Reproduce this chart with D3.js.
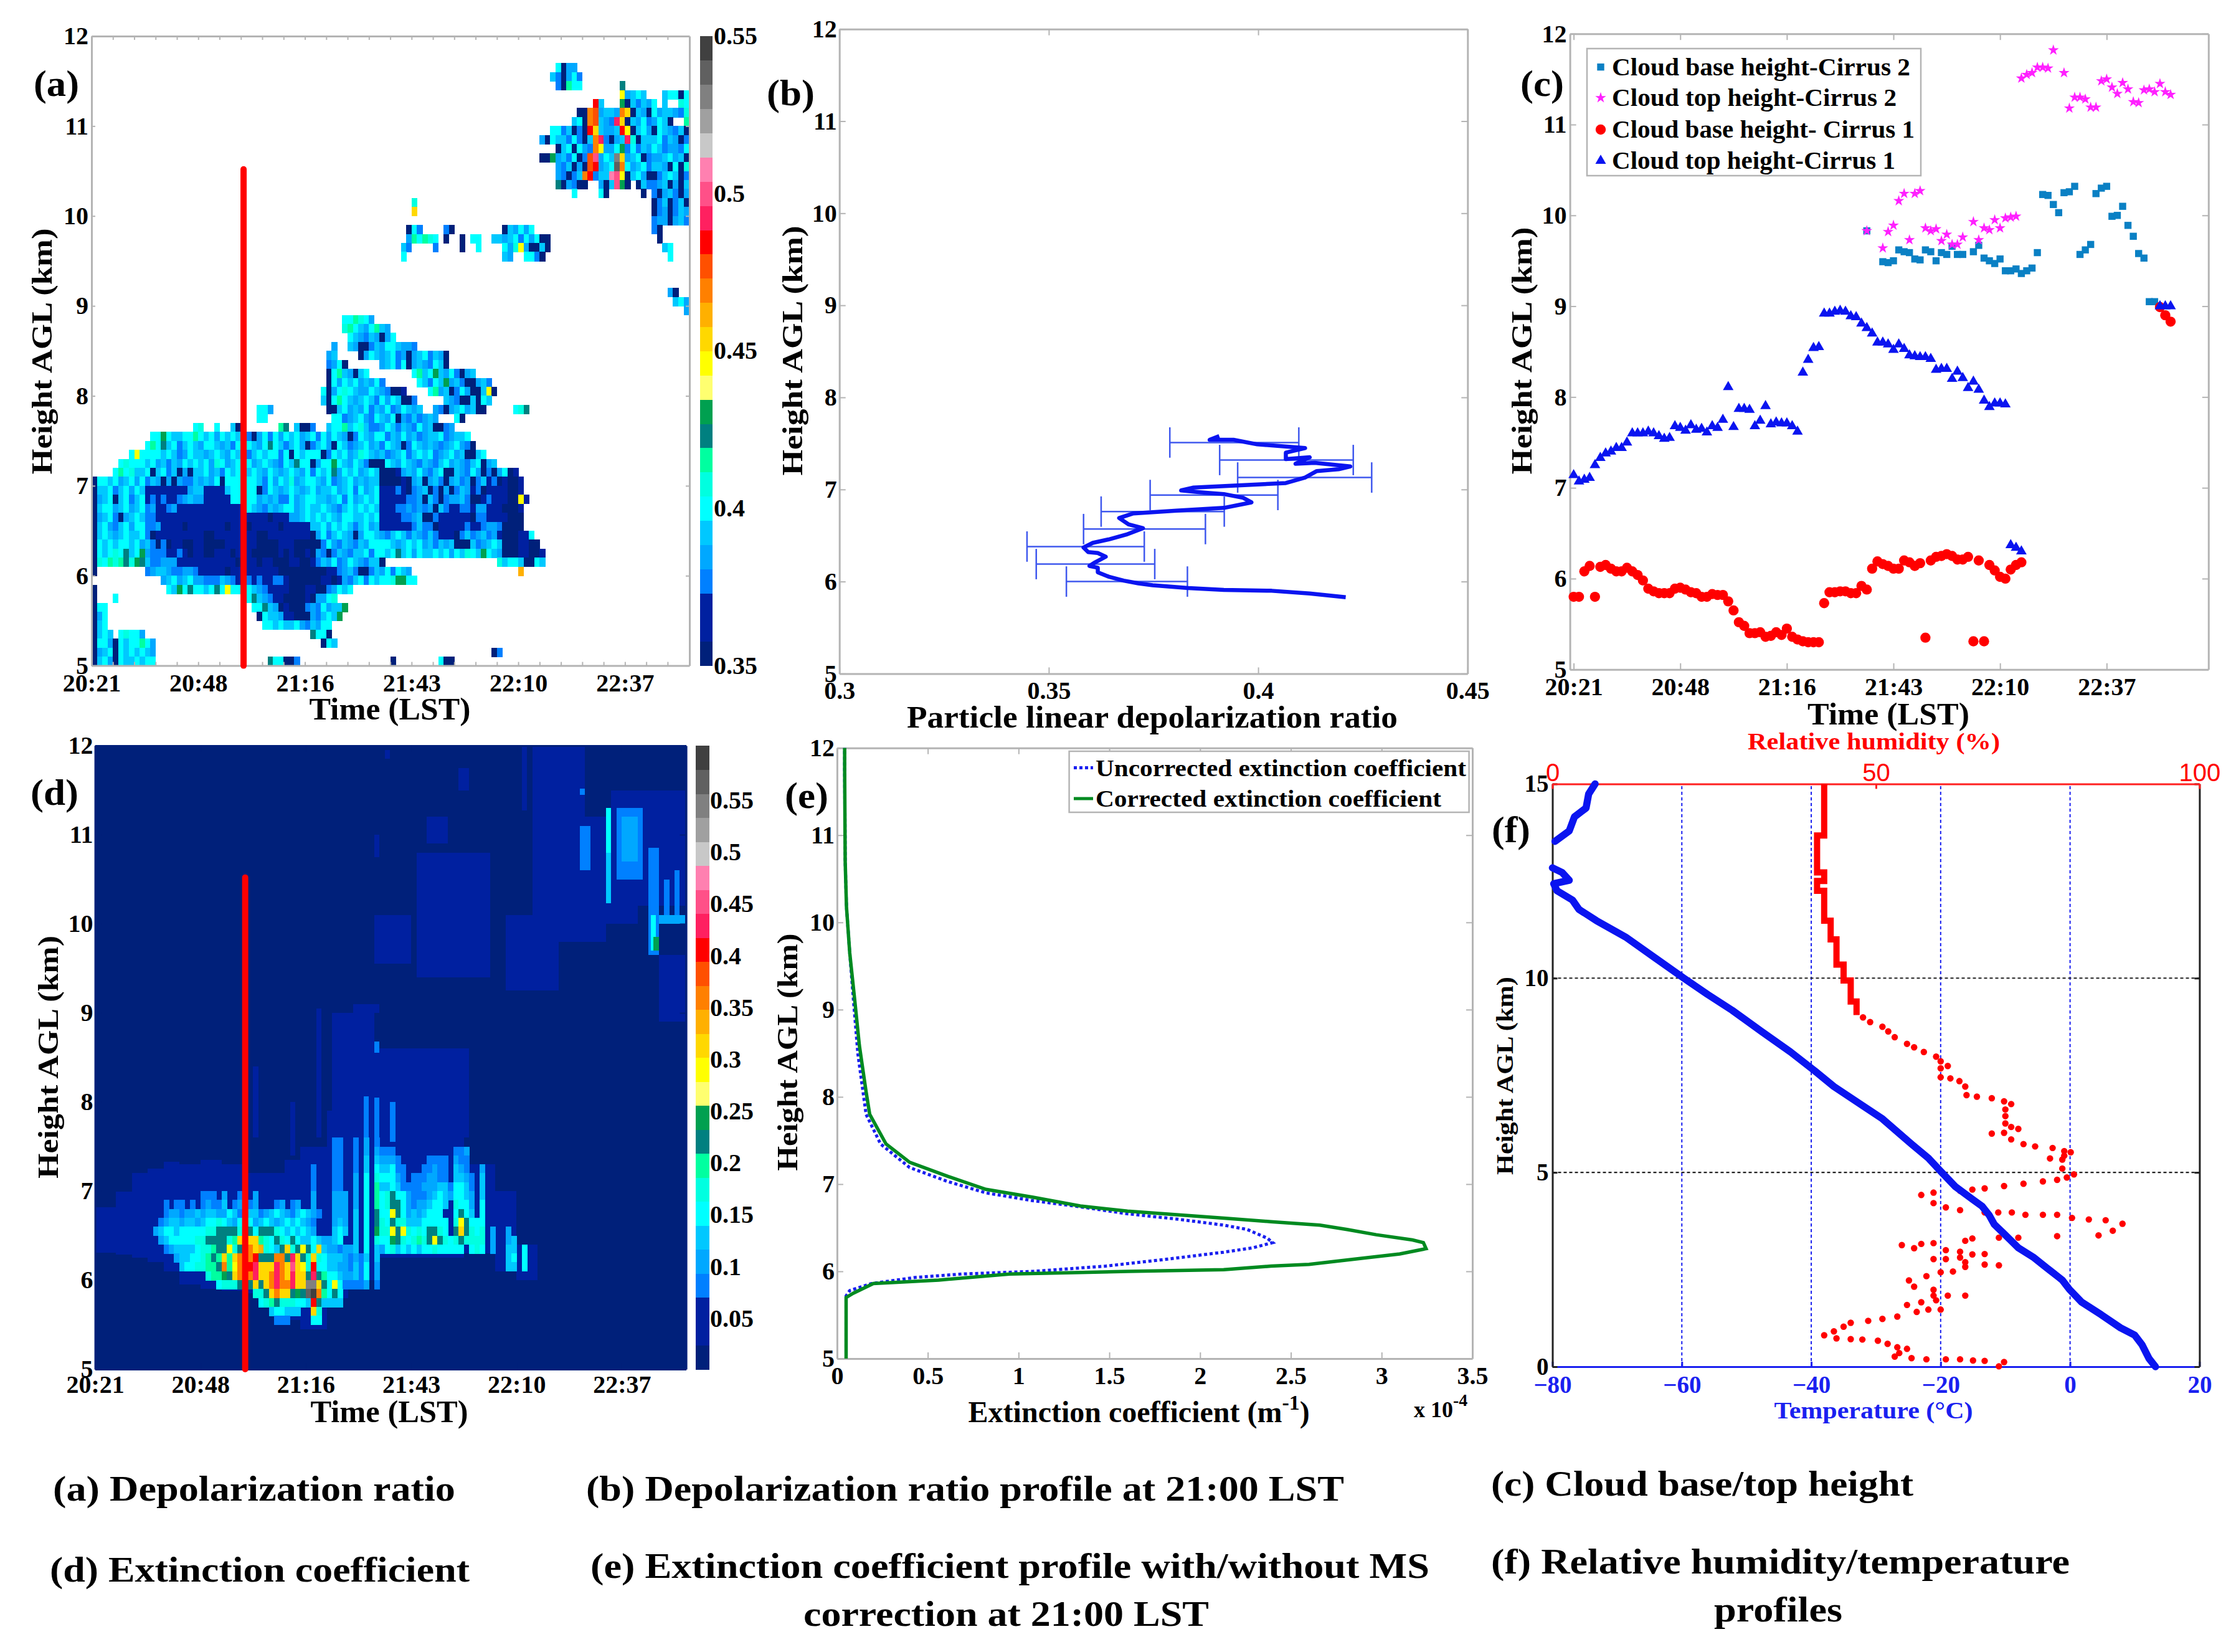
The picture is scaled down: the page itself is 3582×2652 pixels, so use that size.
<!DOCTYPE html>
<html><head><meta charset="utf-8">
<script src="https://cdn.jsdelivr.net/npm/d3@7/dist/d3.min.js"></script>
<style>
html,body{margin:0;padding:0;background:#fff}
svg{display:block}
text{font-family:"Liberation Serif",serif;font-weight:700;fill:#000}
</style></head><body><div id="c"></div>
<script>
// ---------- shared axes data ----------
const heightTicks=[5,6,7,8,9,10,11,12];
const timeTicks=[0,20,40,60,80,100];              // sample index
const timeLabels=["20:21","20:48","21:16","21:43","22:10","22:37"];
const rampColors=["#00207a","#0020a0","#0020a0","#0080ff","#00a8ff","#00c8ff","#00ffff","#00ffe0","#00ffa0","#008080","#00a050","#ffff70","#ffff00","#ffd800","#ffb000","#ff8000","#ff5000","#ff0000","#ff2060","#ff5088","#ff80b0","#c8c8c8","#a0a0a0","#808080","#606060","#404040"];
const levelKeys="abcdefghijklmnopqrstuvwxyz";
const ticksBarA=[0.35,0.4,0.45,0.5,0.55];
const ticksBarD=[0.05,0.1,0.15,0.2,0.25,0.3,0.35,0.4,0.45,0.5,0.55];
const markerLine={col:28.5,km0:5,km1:10.52};

// (a) depolarization ratio cells: [km bottom, first sample, levels]
const cellsA=[
[11.6,87,"gaee"],[11.5,86,"fdaegd"],[11.4,87,"daigg"],[11.4,99,"j"],
[11.3,99,"mefgf"],[11.3,107,"fggag"],
[11.2,94,"rf"],[11.2,99,"kafdfeg"],[11.2,107,"f"],[11.2,110,"hgg"],
[11.1,91,"aapqeffepnafeageffed"],[11.1,111,"ha"],
[11.0,90,"fgapqfedsnafegdegfa"],[11.0,111,"ig"],
[10.9,86,"ggdfadarnfeefrmafgeagfedfagi"],
[10.8,84,"ea"],[10.8,86,"gffdgdafpsdaefshafffgdfeadfh"],
[10.7,87,"afgagedpmeegkdgdfegfdeedg"],
[10.6,84,"aak"],[10.6,87,"efdgadqtegfxnefgadeefgefa"],
[10.5,87,"edfaeaqrefgypgefgdffeagah"],
[10.4,87,"edadfprdffutmafgeaadfgfad"],
[10.3,87,"jaedaa"],[10.3,95,"eaf"],[10.3,98,"tk"],[10.3,100,"a"],[10.3,102,"afd"],[10.3,105,"defaeafa"],
[10.2,90,"g"],[10.2,95,"ga"],[10.2,103,"a"],[10.2,105,"daefdaee"],
[10.1,105,"adfadfa"],[10.1,60,"h"],[10.0,60,"n"],[10.0,105,"adeadfe"],[9.9,105,"deeaefd"],
[9.8,59,"agd"],[9.8,66,"da"],[9.8,77,"afege"],[9.8,82,"g"],[9.8,105,"da"],
[9.7,59,"eigihg"],[9.7,66,"a"],[9.7,69,"a"],[9.7,71,"gg"],[9.7,75,"ff"],[9.7,77,"efgdgeg"],[9.7,84,"aa"],[9.7,106,"a"],
[9.6,58,"fd"],[9.6,64,"d"],[9.6,69,"a"],[9.6,72,"g"],[9.6,77,"gehmeaafa"],[9.6,107,"fg"],
[9.5,58,"g"],[9.5,77,"fe"],[9.5,81,"ggda"],[9.5,108,"g"],
[9.1,108,"ea"],[9.0,109,"fge"],[8.9,111,"e"],
[8.8,47,"ggihge"],
[8.7,47,"higfegife"],
[8.6,48,"gfedfeaeg"],
[8.5,45,"e"],[8.5,48,"fe"],[8.5,50,"aadfeggfeed"],
[8.4,44,"ef"],[8.4,50,"aegfefgdeaefgdfea"],
[8.3,44,"dega"],[8.3,54,"efgdgaefedgfa"],
[8.2,44,"agifeafg"],[8.2,60,"gifgkfegdaef"],
[8.1,44,"agegfgefegd"],[8.1,61,"gfdgfkefdaaefd"],
[8.0,43,"gaeghgfeegfed"],[8.0,56,"aab"],[8.0,63,"giefadgeaafma"],
[7.9,43,"fagigfefgfdgegfaad"],[7.9,66,"fedaafagf"],
[7.8,44,"aafgefegdfegdegfef"],[7.8,64,"edaefgefaa"],[7.8,79,"ghj"],[7.8,31,"gge"],
[7.7,45,"ggdefgedgfegaedfdefe"],[7.7,68,"ga"],[7.7,31,"gg"],
[7.6,19,"gh"],[7.6,23,"g"],[7.6,26,"faa"],[7.6,35,"ij"],[7.6,38,"faad"],[7.6,44,"fggifghfddegfdfedgefaade"],
[7.5,11,"ggkgffggigfgegfgfedaegdgegfgefgdgegfeadgfeggdfegefdeffgdeffg"],
[7.4,10,"gigjfgdfgfeggfefdgfgfegjgfdfgeadfgeagfdefgefdgfeadgfefedefgeda"],
[7.3,7,"gmggggfgfdegffefgfegffdfgfggdgagfgggadgfgefhgfefdefgdfgfgdefgefaafg"],
[7.2,5,"ghgggfgefdfegfgfgehgefgfgefgfedgfjggaeggkgfegfdaaagfegfedfedfgefedfgaef"],
[7.1,4,"gighffgafgdfaeaffgefdgfgefgfegfefgfegdgfgjegfgefgfaaabefegedfgaafedgeadaegab"],
[7.0,0,"aggfgefgegdfeaeaeddfefegagggfggfdgegfhefggfegdefgefeffaaaabaefaefdaefdeadfbdabaab"],
[6.9,0,"affgdfgegfbbbbbbbbeffbbbbfgggggadgfefgfefgeffgefgdgefgbbbdbadefadaeadfebdabbbbaab"],
[6.8,0,"aefgafgdfgbdbdbbdefeebbbbbggfggefefddgefggffefgdgefgfgbbbbbddeafdadeefdaabdbbbaamb"],
[6.7,0,"afggefgefgdebbdebbbbbbbbbbbbfgfedfefggefgffgfedfgfgfgfbbbddededeafdbbddbeebbbaaab"],
[6.6,0,"aefgdaefgfddbbbbbbbbbbbbbbbbbbbbbabbbeefgfgfgfeggffgfgbbbbddefaadbbbbbbaddbbbbaaa"],
[6.5,0,"afgedfgeggddebbbbabbbbbbbabbdabbbbbabbbbbffgegfgfdfgefbbbbbbdfddabbbbbdbbdeedaaaa"],
[6.4,0,"afgfefgffgdabbbbbbbbbaabbbbbabbaabbbbbbbbaegdfgfeaeggfedfgfdfedfdbbbadfdefdebaaabbg"],
[6.3,0,"agfgfggfgefdadabbaabbaaaabbbbbbaaaabbbaaaaadgedfedfeggggfefgfgefdfefaaafdefgfaaabbaa"],
[6.2,0,"agfghgjfgkedddbbdbabbaabbbabbbaaaaababaabaedadfedffgdggfgjfgegffgfgegfhgfkgfeaaabbaab"],
[6.1,0,"ahgihijhkjfddeeebbbbbbbbbbbabbbabbaaabbaabdfegdegfedffa"],[6.1,76,"hfggfaagf"],
[6.0,0,"a"],[6.0,10,"deffeddeedbbbbbabbbbbbbbbaaaaaaaaabbdefdaadfegdgfe"],[6.0,80,"o"],
[5.9,0,""],[5.9,13,"efgefgeedddfedbbdbdbbddbaaaaaabbabedfgdgfgghkkgg"],
[5.8,0,"a"],[5.8,14,"gfkgjggfgjgmgg"],[5.8,29,"gfedbbbbaaabbaadegfg"],
[5.7,0,"a"],[5.7,4,"g"],[5.7,29,"gjfedbbaaaabaeegh"],
[5.6,0,"agg"],[5.6,30,"ggjfeabaaadedgeffk"],
[5.5,0,"aeg"],[5.5,31,"agffebbaaaedfgfk"],
[5.4,0,"afg"],[5.4,32,"ggfgffgedfegg"],
[5.3,0,"afgf"],[5.3,5,"ghgge"],[5.3,41,"jgga"],
[5.2,0,"aggeagfggige"],[5.2,43,"agf"],
[5.1,0,"aefgagfgfgfe"],[5.1,75,"ad"],
[5.0,0,"afgeagffgfgg"],[5.0,33,"jggaad"],[5.0,56,"a"],[5.0,65,"gaa"],
];

// (b) particle linear depolarization ratio profile
const ratioB=[.4209,.4123,.4032,.3918,.3833,.3748,.3714,.3679,.3645,.3617,.3617,.3597,.3611,.3636,.3617,.3594,.3583,.3605,.3645,.3685,.3725,.3691,.3668,.3702,.3805,.3918,.3984,.3964,.3918,.3861,.3816,.3844,.3975,.4066,.4112,.4140,.4192,.4220,.4135,.4089,.4123,.4066,.4066,.4112,.3998,.3941,.3884,.3907];
const kmB=[5.83,5.87,5.90,5.91,5.93,5.96,5.98,6.01,6.05,6.10,6.15,6.17,6.21,6.27,6.31,6.32,6.37,6.42,6.46,6.51,6.58,6.62,6.69,6.74,6.77,6.80,6.86,6.91,6.95,6.97,6.99,7.02,7.05,7.07,7.13,7.20,7.22,7.25,7.29,7.28,7.35,7.33,7.40,7.45,7.49,7.54,7.54,7.58];
const errKmB=[7.51,7.32,7.13,6.94,6.76,6.57,6.38,6.19,6.0];
const errLoB=[.3789,.3908,.3951,.3742,.3625,.3583,.3448,.3470,.3542];
const errHiB=[.4097,.4227,.4271,.4047,.3919,.3874,.3728,.3753,.3831];
const ticksB=[0.3,0.35,0.4,0.45];

// (c) cloud heights: [sample, km]
const baseCirrus2=[[55,9.83],[58,9.49],[59,9.48],[60,9.5],[61,9.62],[62,9.6],[63,9.59],[64,9.52],[65,9.51],[66,9.62],[67,9.6],[68,9.5],[69,9.59],[70,9.57],[71,9.66],[72,9.57],[73,9.57],[75,9.6],[76,9.67],[77,9.53],[78,9.5],[79,9.47],[80,9.52],[81,9.39],[82,9.39],[83,9.41],[84,9.36],[85,9.39],[86,9.42],[87,9.59],[88,10.23],[89,10.22],[90,10.12],[91,10.03],[92,10.25],[93,10.26],[94,10.32],[95,9.57],[96,9.62],[97,9.68],[98,10.24],[99,10.3],[100,10.32],[101,9.99],[102,10.0],[103,10.1],[104,9.89],[105,9.77],[106,9.58],[107,9.53],[108,9.05],[109,9.05]];
const topCirrus2=[[55,9.83],[58,9.64],[59,9.82],[60,9.89],[61,10.16],[62,10.24],[63,9.73],[64,10.24],[65,10.27],[66,9.86],[67,9.83],[68,9.85],[69,9.72],[70,9.79],[71,9.68],[72,9.68],[73,9.76],[75,9.93],[76,9.73],[77,9.86],[78,9.84],[79,9.95],[80,9.86],[81,9.97],[82,9.98],[83,9.99],[84,11.51],[85,11.55],[86,11.57],[87,11.63],[88,11.63],[89,11.62],[90,11.82],[92,11.57],[93,11.18],[94,11.3],[95,11.3],[96,11.28],[97,11.19],[98,11.19],[99,11.48],[100,11.5],[101,11.41],[102,11.34],[103,11.46],[104,11.39],[105,11.25],[106,11.24],[107,11.38],[108,11.39],[109,11.36],[110,11.45],[111,11.36],[112,11.33]];
const baseCirrus1=[[0,5.8],[1,5.8],[2,6.08],[3,6.14],[4,5.8],[5,6.13],[6,6.15],[7,6.11],[8,6.08],[9,6.08],[10,6.12],[11,6.08],[12,6.04],[13,5.98],[14,5.89],[15,5.86],[16,5.84],[17,5.84],[18,5.84],[19,5.89],[20,5.9],[21,5.88],[22,5.85],[23,5.84],[24,5.8],[25,5.8],[26,5.83],[27,5.82],[28,5.82],[29,5.75],[30,5.65],[31,5.52],[32,5.48],[33,5.4],[34,5.4],[35,5.41],[36,5.36],[37,5.37],[38,5.41],[39,5.38],[40,5.45],[41,5.36],[42,5.33],[43,5.31],[44,5.3],[45,5.3],[46,5.3],[47,5.73],[48,5.85],[49,5.85],[50,5.86],[51,5.86],[52,5.84],[53,5.84],[54,5.92],[55,5.88],[56,6.11],[57,6.19],[58,6.16],[59,6.14],[60,6.11],[61,6.11],[62,6.2],[63,6.18],[64,6.14],[65,6.17],[66,5.35],[67,6.2],[68,6.24],[69,6.25],[70,6.27],[71,6.25],[72,6.21],[73,6.21],[74,6.24],[75,5.31],[76,6.2],[77,5.31],[78,6.15],[79,6.09],[80,6.02],[81,6.0],[82,6.1],[83,6.15],[84,6.18],[110,8.99],[111,8.9],[112,8.83]];
const topCirrus1=[[0,7.14],[1,7.07],[2,7.09],[3,7.11],[4,7.25],[5,7.33],[6,7.38],[7,7.4],[8,7.44],[9,7.44],[10,7.5],[11,7.6],[12,7.6],[13,7.6],[14,7.62],[15,7.6],[16,7.57],[17,7.54],[18,7.55],[19,7.68],[20,7.66],[21,7.63],[22,7.69],[23,7.64],[24,7.65],[25,7.61],[26,7.68],[27,7.66],[28,7.75],[29,8.11],[30,7.67],[31,7.87],[32,7.87],[33,7.86],[34,7.68],[35,7.74],[36,7.9],[37,7.7],[38,7.72],[39,7.71],[40,7.71],[41,7.68],[42,7.62],[43,8.27],[44,8.41],[45,8.54],[46,8.55],[47,8.92],[48,8.92],[49,8.94],[50,8.95],[51,8.94],[52,8.89],[53,8.88],[54,8.81],[55,8.76],[56,8.7],[57,8.6],[58,8.6],[59,8.58],[60,8.52],[61,8.58],[62,8.53],[63,8.46],[64,8.45],[65,8.44],[66,8.44],[67,8.42],[68,8.3],[69,8.31],[70,8.31],[71,8.2],[72,8.28],[73,8.21],[74,8.1],[75,8.17],[76,8.08],[77,7.96],[78,7.89],[79,7.93],[80,7.93],[81,7.92],[82,6.37],[83,6.34],[84,6.3],[110,9.0],[111,9.0],[112,9.0]];
const legendC=["Cloud base height-Cirrus 2","Cloud top height-Cirrus 2","Cloud base height- Cirrus 1","Cloud top height-Cirrus 1"];

// (d) extinction: faint patches [first sample, last sample, km low, km high, level]
const patchesD=[
[83,93,11.2,12,"b"],[83,97,9.8,11.2,"b"],[98,112,10.2,11.5,"b"],[81,82,11.27,12,"b"],[63,67,10.9,11.2,"b"],[53,54,10.75,11,"b"],
[61,75,9.4,10.8,"b"],[53,60,9.55,10.1,"b"],[78,88,9.25,10.1,"b"],[93,103,10,10.3,"b"],[107,112,8.9,9.65,"b"],[69,71,11.5,11.75,"b"],
[45,53,7.65,9,"b"],[53,71,7.6,8.6,"b"],[42,43,7.6,9.05,"b"],[49,54,9,9.1,"b"],[30,31,7.6,8.4,"b"],[37,38,7.4,8,"b"],[55,56,11.85,11.95,"b"],
[0,4,6.31,6.82,"b"],[4,7,6.29,6.99,"b"],[7,10,6.25,7.2,"b"],[10,13,6.2,7.25,"b"],[13,16,6.1,7.33,"b"],[16,20,5.95,7.3,"b"],[20,24,5.9,7.35,"b"],[24,28,5.88,7.3,"b"],[28,31,5.85,7.2,"b"],[31,36,5.7,7.2,"b"],[36,39,5.55,7.35,"b"],[39,44,5.45,7.5,"b"],[44,48,5.8,7.9,"b"],[48,54,6.0,7.9,"b"],[54,70,6.25,7.92,"b"],[70,76,6.3,7.3,"b"],[76,80,6.1,7.0,"b"],[80,84,6.0,6.4,"b"],
[51,52,7.6,8.06,"d"],[53,54,7.6,8.05,"d"],[56,57,7.55,8.0,"d"],[53,54,8.55,8.68,"d"],
[97,98,10.8,11.3,"g"],[97,98,10.23,10.8,"f"],[92,94,10.6,11.1,"d"],[99,104,10.5,11.3,"d"],[100,103,10.7,11.2,"e"],[105,107,9.65,10.85,"d"],[105.5,106.5,9.7,10.1,"g"],[106,107,9.7,9.85,"k"],[107,112,10,10.1,"e"],[108,109,10.1,10.5,"d"],[110,111,10.1,10.6,"d"],[92,93,11.45,11.52,"d"],
];
// (d) core cells: [km bottom, first sample, levels]
const cellsD=[
[7.5,45,"dd"],[7.5,49,"d"],[7.5,51,"e"],[7.5,53,"d"],
[7.4,45,"dd"],[7.4,49,"d"],[7.4,51,"e"],[7.4,53,"ed"],[7.4,55,"dd"],[7.4,68,"dde"],
[7.3,45,"dd"],[7.3,49,"d"],[7.3,51,"f"],[7.3,53,"fee"],[7.3,56,"e"],[7.3,57,"d"],[7.3,63,"dddd"],[7.3,68,"edd"],
[7.2,41,"d"],[7.2,45,"dd"],[7.2,49,"d"],[7.2,51,"f"],[7.2,53,"gffg"],[7.2,57,"dd"],[7.2,62,"ddedd"],[7.2,68,"fed"],[7.2,73,"e"],
[7.1,41,"d"],[7.1,45,"dd"],[7.1,49,"e"],[7.1,51,"g"],[7.1,53,"hggg"],[7.1,57,"ed"],[7.1,60,"dddeedd"],[7.1,68,"ffe"],[7.1,71,"d"],[7.1,73,"f"],
[7.0,41,"d"],[7.0,45,"dd"],[7.0,49,"e"],[7.0,51,"g"],[7.0,53,"iffg"],[7.0,57,"fd"],[7.0,59,"dddeeeff"],[7.0,67,"d"],[7.0,68,"ggfd"],[7.0,73,"f"],
[6.9,20,"ddd"],[6.9,24,"e"],[6.9,27,"d"],[6.9,30,"e"],[6.9,41,"e"],[6.9,45,"eee"],[6.9,49,"e"],[6.9,51,"g"],[6.9,53,"ighj"],[6.9,57,"g"],[6.9,58,"ge"],[6.9,60,"dddefgfe"],[6.9,68,"ggfe"],[6.9,73,"f"],
[6.8,13,"d"],[6.8,15,"dd"],[6.8,18,"d"],[6.8,20,"dedd"],[6.8,24,"f"],[6.8,26,"de"],[6.8,29,"de"],[6.8,34,"de"],[6.8,37,"de"],[6.8,41,"e"],[6.8,45,"eee"],[6.8,49,"e"],[6.8,51,"g"],[6.8,53,"ighjj"],[6.8,58,"g"],[6.8,59,"edeefggf"],[6.8,68,"hgge"],[6.8,73,"g"],
[6.7,13,"deedeefeffeegfdeffdefgfedfgfed"],[6.7,45,"eee"],[6.7,49,"f"],[6.7,51,"g"],[6.7,53,"jggmj"],[6.7,58,"g"],[6.7,59,"efefggg"],[6.7,68,"gjg"],[6.7,71,"f"],[6.7,73,"g"],
[6.6,12,"deffeffefgghgfeghgefgfefgfgfed"],[6.6,45,"efe"],[6.6,49,"f"],[6.6,51,"g"],[6.6,53,"jhgjh"],[6.6,58,"h"],[6.6,59,"fffgggg"],[6.6,66,"g"],[6.6,68,"hmj"],[6.6,71,"gg"],[6.6,73,"g"],
[6.5,11,"efggfggggghhjjjjhgjgjjjhgfgfgfe"],[6.5,45,"fgf"],[6.5,49,"f"],[6.5,51,"g"],[6.5,53,"khhmjm"],[6.5,59,"hghgjjhg"],[6.5,68,"jnj"],[6.5,71,"hg"],[6.5,73,"h"],[6.5,75,"e"],[6.5,78,"e"],
[6.4,12,"efggggghhjjjjhinonnihgjhgjgffgfeefg"],[6.4,49,"f"],[6.4,51,"g"],[6.4,53,"hggkjhg"],[6.4,60,"hihjmjhg"],[6.4,68,"hjh"],[6.4,71,"hh"],[6.4,73,"h"],[6.4,75,"e"],[6.4,78,"ef"],
[6.3,13,"deffffghhijjmhjopnohgfjnhjmjgnfeedee"],[6.3,49,"f"],[6.3,51,"g"],[6.3,53,"fe"],[6.3,55,"ghfgf"],[6.3,60,"gfgghgg"],[6.3,67,"g"],[6.3,68,"gg"],[6.3,71,"gh"],[6.3,73,"g"],[6.3,75,"e"],[6.3,78,"ff"],[6.3,81,"g"],
[6.2,15,"effgghijininppprjjjppjsnjhnhgfffededf"],[6.2,53,"f"],[6.2,78,"fg"],[6.2,81,"g"],
[6.1,16,"fgghhiijpimpqrsnnnspntnmhrggffeedfdg"],[6.1,53,"e"],[6.1,78,"ff"],[6.1,81,"g"],
[6.0,21,"hiikjnpqpsnnpspnsnnjsjiggfeefdg"],[6.0,53,"e"],
[5.9,23,"ghhhjjjnjnpsppsnnxxnjgmgdddde"],[5.9,53,"d"],
[5.8,30,"hhjnpnnjkjyzpigjg"],
[5.7,31,"ghijhhhggfrjffff"],
[5.6,33,"fggfff"],[5.6,41,"nh"],
[5.5,34,"ddd"],[5.5,41,"gg"],
];

// (e) extinction profile, x in 1e-4 per metre
const kmGreen=[5,5.7,5.75,5.86,5.90,5.97,6.0,6.02,6.06,6.08,6.15,6.2,6.26,6.33,6.36,6.42,6.48,6.53,6.57,6.61,6.65,6.69,6.75,6.85,6.94,7.09,7.25,7.46,7.8,8.06,8.59,9.12,9.65,10.18,10.7,11.76,12];
const extGreen=[.05,.05,.09,.2,.56,.95,1.6,2.13,2.39,2.6,2.89,3.1,3.245,3.23,3.17,2.97,2.81,2.66,2.39,2.13,1.87,1.6,1.34,1.08,.82,.61,.4,.27,.18,.16,.123,.097,.07,.052,.045,.042,.042];
const kmBlue=[5,5.72,5.78,5.86,5.93,5.97,6.0,6.06,6.14,6.22,6.27,6.33,6.38,6.48,6.53,6.6,6.66,6.74,6.81,6.9,7.03,7.19,7.46,7.8,8.49,9.12,9.65,10.18,10.7,11.76,12];
const extBlue=[.05,.05,.07,.19,.43,.69,1.08,1.48,1.82,2.13,2.29,2.4,2.37,2.26,2.13,1.87,1.6,1.34,1.08,.82,.61,.4,.24,.16,.115,.09,.07,.052,.045,.042,.042];
const ticksE=[0,0.5,1,1.5,2,2.5,3,3.5];
const legendE=["Uncorrected extinction coefficient","Corrected extinction coefficient"];

// (f) temperature and humidity
const tempLow=[[13.2,0],[12.2,.21],[11.1,.57],[10,.81],[7.8,1],[4.8,1.34],[1.8,1.66],[-.1,1.99],[-1.2,2.23],[-3.5,2.53],[-5.7,2.82],[-8,3.06],[-10.2,3.42],[-11.7,3.66],[-12.5,3.9],[-13.6,4.13],[-15.1,4.31],[-17.7,4.63],[-20,5.03],[-21.9,5.37],[-24.5,5.73],[-29,6.38],[-32.7,6.79],[-36.5,7.21],[-39.5,7.62],[-43.2,8.1],[-47.7,8.63],[-52.2,9.17],[-56,9.58],[-59.7,10],[-64.2,10.53],[-68.7,11.06],[-73.2,11.48],[-75.9,11.77],[-76.9,12.01],[-79.3,12.25],[-79.8,12.43],[-77.4,12.52],[-78.5,12.72],[-80,12.84]];
const tempHigh=[[-79.6,13.52],[-77.4,13.79],[-76.6,14.15],[-74.8,14.38],[-74.4,14.74],[-73.4,15]];
const humidSteps=[[42,15],[42,13.67],[40.9,13.67],[40.9,12.72],[42,12.72],[42,12.5],[40.9,12.5],[40.9,12.25],[42,12.25],[42,11.48],[43,11.48],[43,11],[43.9,11],[43.9,10.35],[45,10.35],[45,9.94],[46.1,9.94],[46.1,9.4],[47,9.4],[47,9.05]];
const humidDots=[[48,8.99],[49.1,8.87],[51,8.75],[51.9,8.63],[52.9,8.48],[54.8,8.31],[55.9,8.22],[57.4,8.1],[59.3,7.98],[60,7.86],[60,7.68],[60,7.45],[61.1,7.74],[61.5,7.42],[62.9,7.35],[63.8,7.21],[64,6.99],[65.6,6.95],[67.9,6.91],[69.8,6.83],[70.9,6.76],[70,6.62],[70,6.45],[70,6.26],[67.9,6],[69.8,6.02],[70.9,6.17],[72,6.12],[70.9,5.85],[72.8,5.73],[74.6,5.67],[77.3,5.63],[79.1,5.55],[80.1,5.52],[79.1,5.43],[76.9,5.36],[78.8,5.33],[78.8,5.1],[80.6,4.95],[79.5,4.87],[78,4.81],[75.8,4.77],[72.8,4.71],[69.8,4.65],[66.8,4.59],[64.9,4.56],[63,4.53],[58.9,4.48],[57,4.42],[58.9,4.21],[60.8,4.1],[63,4.03],[66.8,3.97],[68.9,3.97],[71,3.97],[73.1,3.91],[75.8,3.91],[78,3.91],[80.3,3.83],[82.9,3.79],[85.5,3.77],[88.1,3.68],[86.6,3.5],[84.4,3.38],[78,3.36],[72,3.32],[69,3.32],[64.9,3.3],[63.8,3.24],[58.9,3.18],[57,3.16],[54,3.13],[55.9,3.05],[60.8,3],[63,2.96],[64.9,2.89],[66.8,2.9],[63,2.81],[58.9,2.77],[60.8,2.77],[63.8,2.69],[66.8,2.63],[69,2.61],[63.8,2.57],[61.9,2.45],[60,2.43],[57.8,2.33],[55.1,2.22],[55.9,2.06],[58.9,1.98],[58.9,1.83],[63.8,1.83],[61.1,1.83],[59.3,1.71],[57,1.66],[54.8,1.59],[58.1,1.47],[60,1.47],[56.3,1.41],[53.3,1.29],[51,1.23],[48.8,1.18],[46.1,1.13],[45,1.03],[43.5,.91],[42,.81],[43.9,.73],[46.1,.71],[47.9,.7],[50.3,.67],[51.8,.59],[53.3,.5],[54.8,.46],[53.6,.35],[52.9,.26],[55.5,.22],[57.8,.19],[60.8,.19],[63,.19],[65,.16],[66.8,.15],[69.8,.12],[69,.01]];
const ticksTemp=[-80,-60,-40,-20,0,20];
const ticksHumid=[0,50,100];
const ticksHeightF=[0,5,10,15];
const captions=[
["(a) Depolarization ratio",85,2409,646],["(b) Depolarization ratio profile at 21:00 LST",941,2409,1217],["(c) Cloud base/top height",2394,2401,678],
["(d) Extinction coefficient",80,2539,674],["(e) Extinction coefficient profile with/without MS",948,2533,1347],["correction at 21:00 LST",1290,2610,651],
["(f) Relative humidity/temperature",2394,2526,929],["profiles",2752,2603,206]];

// ---------- drawing ----------
const svg=d3.select("#c").append("svg").attr("width",3582).attr("height",2652).attr("viewBox","0 0 3582 2652");
svg.append("rect").attr("width",3582).attr("height",2652).attr("fill","#fff");
const GREY="#b4b4b4";
function txt(x,y,s,o={}){
  const t=svg.append("text").attr("x",x).attr("y",y).text(s).attr("font-size",o.size||40)
    .attr("text-anchor",o.anchor||"start").style("fill",o.fill||"#000");
  if(o.len)t.attr("textLength",o.len).attr("lengthAdjust","spacingAndGlyphs");
  if(o.rotate)t.attr("transform",`rotate(${o.rotate} ${x} ${y})`);
  if(o.family)t.style("font-family",o.family).style("font-weight",o.weight||400);
  return t;
}
function axes(x,y,xTicks,xFmt,yTicks,o={}){
  const [x0,x1]=x.range(),[y0,y1]=y.range();
  const col=o.color||GREY,tl=o.tick||10,fs=o.size||40;
  const style=g=>{g.selectAll(".domain").attr("stroke",col).attr("stroke-width",3);g.selectAll("line").attr("stroke",col).attr("stroke-width",2);g.selectAll("text").attr("font-size",fs).style("font-family",'"Liberation Serif",serif').style("font-weight",700).style("fill","#000");};
  svg.append("g").attr("transform",`translate(0,${y0})`).call(d3.axisBottom(x).tickValues(xTicks).tickFormat(xFmt).tickSize(-tl).tickPadding(o.padX||13).tickSizeOuter(0)).call(style);
  svg.append("g").attr("transform",`translate(${x0},0)`).call(d3.axisLeft(y).tickValues(yTicks).tickFormat(d3.format("d")).tickSize(-tl).tickPadding(o.padY||5).tickSizeOuter(0)).call(style);
  svg.append("g").attr("transform",`translate(0,${y1})`).call(d3.axisTop(x).tickValues(xTicks).tickFormat("").tickSize(-tl).tickSizeOuter(0)).call(style);
  svg.append("g").attr("transform",`translate(${x1},0)`).call(d3.axisRight(y).tickValues(yTicks).tickFormat("").tickSize(-tl).tickSizeOuter(0)).call(style);
}
const timeFmt=d=>timeLabels[timeTicks.indexOf(d)];
function heat(x,y,cells,color,domain){
  const w=x(1)-x(0),h=Math.abs(y(5.1)-y(5));
  const g=svg.append("g").attr("shape-rendering","crispEdges");
  cells.forEach(([km,c0,s])=>{
    [...s].forEach((ch,i)=>{
      const col=c0+i; if(col>=domain) return;
      g.append("rect").attr("x",x(col)).attr("y",y(km+0.1)).attr("width",w+.6).attr("height",h+.6).attr("fill",rampColors[levelKeys.indexOf(ch)]);
    });
  });
}
function colorbar(x0,x1,yTop,yBot,lo,hi,ticks,labelX){
  const yc=d3.scaleLinear().domain([lo,hi]).range([yBot,yTop]);
  const step=(hi-lo)/rampColors.length;
  const g=svg.append("g").attr("shape-rendering","crispEdges");
  rampColors.forEach((c,i)=>g.append("rect").attr("x",x0).attr("width",x1-x0).attr("y",yc(lo+step*(i+1))).attr("height",yc(lo)-yc(lo+step)+.6).attr("fill",c));
  ticks.forEach(t=>txt(labelX,yc(t)+13,String(t),{size:40}));
  txt; 
}
function redLine(x,y){
  svg.append("line").attr("x1",x(markerLine.col)).attr("x2",x(markerLine.col)).attr("y1",y(markerLine.km0)).attr("y2",y(markerLine.km1)).attr("stroke","#ff0000").attr("stroke-width",10).attr("stroke-linecap","round");
}

// panel (a)
{
  const x=d3.scaleLinear().domain([0,112.1]).range([147,1107]);
  const y=d3.scaleLinear().domain([5,12]).range([1068.6,58]);
  heat(x,y,cellsA,null,112);
  axes(x,y,d3.range(0,112,4),d=>timeTicks.includes(d)?timeFmt(d):"",heightTicks,{tick:6});
  svg.selectAll("g").filter(function(){return false;});
  redLine(x,y);
  colorbar(1124,1144,58,1068.6,0.35,0.55,ticksBarA,1146);
  txt(83,564,"Height AGL (km)",{size:47,anchor:"middle",rotate:-90,len:395});
  txt(626,1155,"Time (LST)",{size:50,anchor:"middle",len:259});
  txt(54,154,"(a)",{size:60,len:73});
}
// panel (b)
{
  const x=d3.scaleLinear().domain([0.3,0.45]).range([1347.7,2356.3]);
  const y=d3.scaleLinear().domain([5,12]).range([1081.4,46.7]);
  axes(x,y,ticksB,d=>String(d),heightTicks,{tick:10,padX:12,padY:4});
  const g=svg.append("g").attr("stroke","#3f58ee").attr("stroke-width",2.5);
  errKmB.forEach((k,i)=>{
    g.append("line").attr("x1",x(errLoB[i])).attr("x2",x(errHiB[i])).attr("y1",y(k)).attr("y2",y(k));
    [errLoB[i],errHiB[i]].forEach(v=>g.append("line").attr("x1",x(v)).attr("x2",x(v)).attr("y1",y(k+.165)).attr("y2",y(k-.165)));
  });
  svg.append("path").attr("fill","none").attr("stroke","#0a14f0").attr("stroke-width",6.5).attr("stroke-linejoin","round")
    .attr("d",d3.line().x(d=>x(ratioB[d])).y(d=>y(kmB[d]))(d3.range(ratioB.length)));
  txt(1288,563,"Height AGL (km)",{size:47,anchor:"middle",rotate:-90,len:401});
  txt(1850,1168,"Particle linear depolarization ratio",{size:50,anchor:"middle",len:788});
  txt(1231,169,"(b)",{size:60,len:77});
}
// panel (c)
{
  const x=d3.scaleLinear().domain([-0.7,119.1]).range([2520.6,3545.8]);
  const y=d3.scaleLinear().domain([5,12]).range([1074.7,54.2]);
  axes(x,y,timeTicks,timeFmt,heightTicks,{tick:10,padY:5});
  const sym=(type,size)=>d3.symbol().type(type).size(size)();
  const styles=[
    {d:baseCirrus2,p:sym(d3.symbolSquare,130),c:"#0a80c4"},
    {d:topCirrus2,p:sym(d3.symbolStar,95),c:"#ff20ff"},
    {d:baseCirrus1,p:sym(d3.symbolCircle,210),c:"#ff0000"},
    {d:topCirrus1,p:sym(d3.symbolTriangle,125),c:"#0a14f0"}];
  // drawn so red / blue series sit as in the figure
  styles.forEach(s=>svg.append("g").selectAll("path").data(s.d).join("path").attr("d",s.p).attr("fill",s.c).attr("transform",d=>`translate(${x(d[0])},${y(d[1])})`));
  svg.append("rect").attr("x",2548).attr("y",78).attr("width",536).attr("height",204).attr("fill","#fff").attr("stroke",GREY).attr("stroke-width",2.5);
  const ly=[107.6,157,208,258],ll=[479,457,486,455];
  styles.forEach((s,i)=>{
    svg.append("path").attr("d",s.p).attr("fill",s.c).attr("transform",`translate(2570,${ly[i]})`);
    txt(2588,ly[i]+13,legendC[i],{size:39,len:ll[i]});
  });
  txt(2459,563,"Height AGL (km)",{size:47,anchor:"middle",rotate:-90,len:397});
  txt(3032,1163,"Time (LST)",{size:50,anchor:"middle",len:260});
  txt(2441,154,"(c)",{size:60,len:70});
}
// panel (d)
{
  const x=d3.scaleLinear().domain([0,112.2]).range([152.6,1101.6]);
  const y=d3.scaleLinear().domain([5,12]).range([2198,1197]);
  svg.append("rect").attr("x",152.6).attr("y",1197).attr("width",949).attr("height",1001).attr("fill",rampColors[0]);
  const g=svg.append("g").attr("shape-rendering","crispEdges");
  patchesD.forEach(p=>g.append("rect").attr("x",x(p[0])).attr("width",x(p[1])-x(p[0])).attr("y",y(p[3])).attr("height",y(p[2])-y(p[3])).attr("fill",rampColors[levelKeys.indexOf(p[4])]));
  heat(x,y,cellsD,null,112);
  axes(x,y,timeTicks,timeFmt,heightTicks,{tick:0,padX:10,padY:3,color:"#00207a"});
  redLine(x,y);
  colorbar(1117,1139,1197,2198,0.0012,0.603,ticksBarD,1140);
  txt(93,1697,"Height AGL (km)",{size:47,anchor:"middle",rotate:-90,len:390});
  txt(625,2283,"Time (LST)",{size:50,anchor:"middle",len:253});
  txt(49,1292,"(d)",{size:60,len:77});
}
// panel (e)
{
  const x=d3.scaleLinear().domain([0,3.5]).range([1343.9,2364]);
  const y=d3.scaleLinear().domain([5,12]).range([2181,1200.7]);
  axes(x,y,ticksE,d=>String(d),heightTicks,{tick:10,padY:4});
  const line=(xs,ks)=>d3.line().x(d=>x(xs[d])).y(d=>y(ks[d]))(d3.range(xs.length));
  svg.append("path").attr("fill","none").attr("stroke","#1a20f0").attr("stroke-width",5).attr("stroke-dasharray","5 4").attr("d",line(extBlue,kmBlue));
  svg.append("path").attr("fill","none").attr("stroke","#008a20").attr("stroke-width",5.5).attr("d",line(extGreen,kmGreen));
  svg.append("rect").attr("x",1716.6).attr("y",1206).attr("width",642).attr("height",98).attr("fill","#fff").attr("stroke",GREY).attr("stroke-width",2.5);
  [[1232.5,"#1a20f0","5 4",595],[1282,"#008a20","none",555]].forEach((r,i)=>{
    svg.append("line").attr("x1",1724).attr("x2",1755).attr("y1",r[0]).attr("y2",r[0]).attr("stroke",r[1]).attr("stroke-width",5).attr("stroke-dasharray",r[2]);
    txt(1759,r[0]+13,legendE[i],{size:37,len:r[3]});
  });
  txt(1280,1689,"Height AGL (km)",{size:47,anchor:"middle",rotate:-90,len:381});
  const t=txt(1554.6,2283,"Extinction coefficient (m",{size:48});
  t.append("tspan").attr("dy",-20).attr("font-size",34).text("-1");
  t.append("tspan").attr("dy",20).text(")");
  const t2=txt(2270,2275,"x 10",{size:36});
  t2.append("tspan").attr("dy",-18).attr("font-size",28).text("-4");
  txt(1260,1297,"(e)",{size:60,len:70});
}
// panel (f)
{
  const x=d3.scaleLinear().domain([-80,20]).range([2492.5,3531.4]);
  const xh=d3.scaleLinear().domain([0,100]).range([2492.5,3531.4]);
  const y=d3.scaleLinear().domain([0,15]).range([2194,1258.4]);
  const dash=svg.append("g");
  ticksTemp.slice(1,5).forEach(t=>dash.append("line").attr("x1",x(t)).attr("x2",x(t)).attr("y1",y(0)).attr("y2",y(15)).attr("stroke","#1a20f0").attr("stroke-width",2).attr("stroke-dasharray","5 4"));
  [5,10].forEach(k=>dash.append("line").attr("x1",x(-80)).attr("x2",x(20)).attr("y1",y(k)).attr("y2",y(k)).attr("stroke","#222").attr("stroke-width",2.2).attr("stroke-dasharray","5 4"));
  // frame axes
  const ax=svg.append("g");
  ax.append("g").attr("transform",`translate(0,${y(0)})`).call(d3.axisBottom(x).tickValues(ticksTemp).tickSize(-8).tickPadding(14).tickSizeOuter(0))
    .call(g=>{g.selectAll(".domain,line").attr("stroke","#1a20f0").attr("stroke-width",3);g.selectAll("text").attr("font-size",39).style("font-family",'"Liberation Serif",serif').style("font-weight",700).style("fill","#1a20f0");});
  ax.append("g").attr("transform",`translate(${x(-80)},0)`).call(d3.axisLeft(y).tickValues(ticksHeightF).tickSize(-8).tickPadding(6).tickSizeOuter(0))
    .call(g=>{g.selectAll(".domain,line").attr("stroke","#222").attr("stroke-width",3);g.selectAll("text").attr("font-size",39).style("font-family",'"Liberation Serif",serif').style("font-weight",700);});
  ax.append("g").attr("transform",`translate(${x(20)},0)`).call(d3.axisRight(y).tickValues(ticksHeightF).tickSize(-8).tickFormat("").tickSizeOuter(0))
    .call(g=>{g.selectAll(".domain,line").attr("stroke","#222").attr("stroke-width",3);});
  ax.append("g").attr("transform",`translate(0,${y(15)})`).call(d3.axisTop(xh).tickValues(ticksHumid).tickSize(-8).tickPadding(4).tickSizeOuter(0))
    .call(g=>{g.selectAll(".domain,line").attr("stroke","#ff2020").attr("stroke-width",3);g.selectAll("text").attr("font-size",40).style("font-family",'"Liberation Sans",sans-serif').style("font-weight",400).style("fill","#ff0000");});
  const tl=d3.line().x(d=>x(d[0])).y(d=>y(d[1]));
  svg.append("path").attr("fill","none").attr("stroke","#ff0000").attr("stroke-width",10).attr("d",d3.line().x(d=>xh(d[0])).y(d=>y(d[1]))(humidSteps));
  svg.append("g").selectAll("circle").data(humidDots).join("circle").attr("cx",d=>xh(d[0])).attr("cy",d=>y(d[1])).attr("r",5.2).attr("fill","#ff0000");
  [tempLow,tempHigh].forEach(s=>svg.append("path").attr("fill","none").attr("stroke","#0a14f0").attr("stroke-width",11.5).attr("stroke-linecap","round").attr("stroke-linejoin","round").attr("d",tl(s)));
  txt(3008.5,1203,"Relative humidity (%)",{size:38,anchor:"middle",fill:"#ff0000",len:405});
  txt(3008,2277,"Temperature (°C)",{size:37,anchor:"middle",fill:"#1a20f0",len:319});
  txt(2429,1727,"Height AGL (km)",{size:37,anchor:"middle",rotate:-90,len:318});
  txt(2395,1352,"(f)",{size:60,len:62});
}
// captions
captions.forEach(c=>txt(c[1],c[2],c[0],{size:58,len:c[3]}));
</script></body></html>
